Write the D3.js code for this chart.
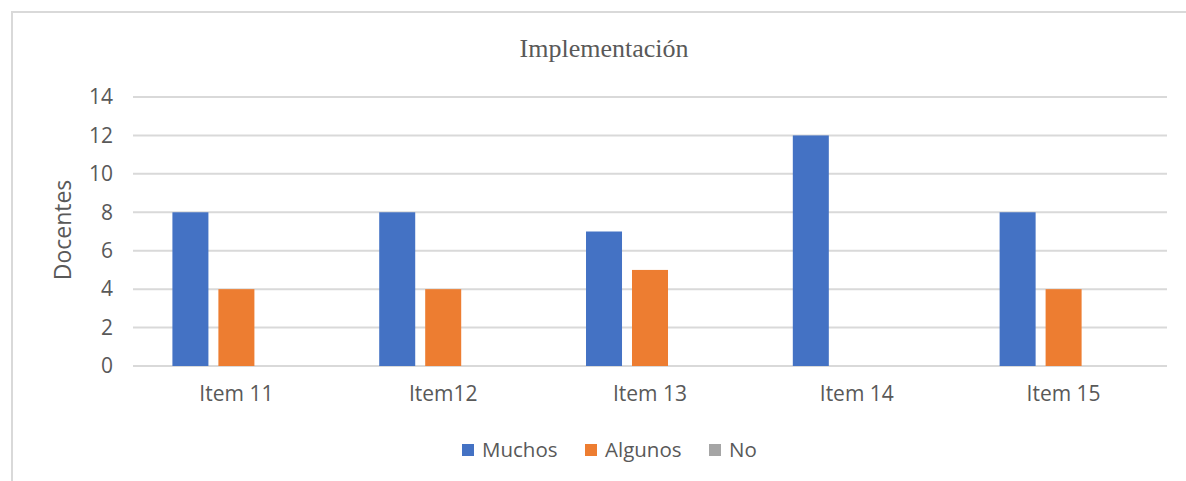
<!DOCTYPE html>
<html>
<head>
<meta charset="utf-8">
<script src="https://cdn.jsdelivr.net/npm/d3@7"></script>
<style>
  body { margin: 0; background: #fff; }
  text { fill: #595959; }
</style>
</head>
<body>
<div id="chart"></div>
<script>
const categories = ["Item 11", "Item12", "Item 13", "Item 14", "Item 15"];
const seriesNames = ["Muchos", "Algunos", "No"];
const muchos = [8, 8, 7, 12, 8];
const algunos = [4, 4, 5, 0, 4];
const no = [0, 0, 0, 0, 0];
const yTicks = [0, 2, 4, 6, 8, 10, 12, 14];
const colors = ["#4472C4", "#ED7D31", "#A5A5A5"];

const w = 1186, h = 481;
const plotLeft = 133, plotRight = 1167, plotTop = 97, plotBottom = 366;
const sansFont = "'Open Sans', sans-serif";

const svg = d3.select("#chart").append("svg")
    .attr("width", w)
    .attr("height", h);

// frame of the chart area (only top and left edges show)
svg.append("path")
    .attr("d", `M12,${h} V12 H${w}`)
    .attr("fill", "none")
    .attr("stroke", "#d9d9d9")
    .attr("stroke-width", 2);

const xScale = d3.scaleBand()
    .domain(categories)
    .range([plotLeft, plotRight]);

const innerScale = d3.scaleBand()
    .domain(seriesNames)
    .range([0, xScale.bandwidth()])
    .paddingInner(0.217)
    .paddingOuter(0.857);

const yScale = d3.scaleLinear()
    .domain([0, 14])
    .range([plotBottom, plotTop]);

// gridlines
svg.append("g")
    .selectAll("line")
    .data(yTicks)
    .enter()
    .append("line")
    .attr("x1", plotLeft)
    .attr("x2", plotRight)
    .attr("y1", d => yScale(d))
    .attr("y2", d => yScale(d))
    .attr("stroke", "#d9d9d9")
    .attr("stroke-width", 2);

// y tick labels
let yAxis = d3.axisLeft(yScale).tickValues(yTicks).tickSize(0).tickPadding(20);
svg.append("g")
    .attr("transform", "translate(" + plotLeft + ",0)")
    .call(yAxis)
    .call(g => g.select(".domain").remove())
    .selectAll("text")
    .style("font-family", sansFont)
    .style("font-size", "21px")
    .attr("fill", "#595959");

// bars
const table = categories.map((c, i) => ({
    cat: c,
    values: [muchos[i], algunos[i], no[i]]
}));

const groups = svg.append("g")
    .selectAll("g")
    .data(table)
    .enter()
    .append("g")
    .attr("transform", d => "translate(" + xScale(d.cat) + ",0)");

groups.selectAll("rect")
    .data(d => d.values.map((v, j) => ({ name: seriesNames[j], value: v, j: j })))
    .enter()
    .append("rect")
    .attr("x", d => innerScale(d.name))
    .attr("y", d => yScale(d.value))
    .attr("width", innerScale.bandwidth())
    .attr("height", d => yScale(0) - yScale(d.value))
    .attr("fill", d => colors[d.j]);

// x labels
let xAxis = d3.axisBottom(xScale).tickSize(0).tickPadding(20);
svg.append("g")
    .attr("transform", "translate(0," + plotBottom + ")")
    .call(xAxis)
    .call(g => g.select(".domain").remove())
    .selectAll("text")
    .style("font-family", sansFont)
    .style("font-size", "21px")
    .attr("fill", "#595959");

// title
svg.append("text")
    .attr("x", 604)
    .attr("y", 57)
    .attr("text-anchor", "middle")
    .style("font-family", "'Liberation Serif', 'Times New Roman', serif")
    .style("font-size", "26px")
    .text("Implementación");

// y axis title
svg.append("text")
    .attr("transform", "translate(71,230) rotate(-90)")
    .attr("text-anchor", "middle")
    .style("font-family", sansFont)
    .style("font-size", "23px")
    .text("Docentes");

// legend
const legendX = [462, 585, 709];
const legend = svg.append("g")
    .selectAll("g")
    .data(seriesNames)
    .enter()
    .append("g")
    .attr("transform", (d, i) => "translate(" + legendX[i] + ",444)");

legend.append("rect")
    .attr("width", 12)
    .attr("height", 12)
    .attr("fill", (d, i) => colors[i]);

legend.append("text")
    .attr("x", 20)
    .attr("y", 13)
    .style("font-family", sansFont)
    .style("font-size", "20.5px")
    .text(d => d);
</script>
</body>
</html>
